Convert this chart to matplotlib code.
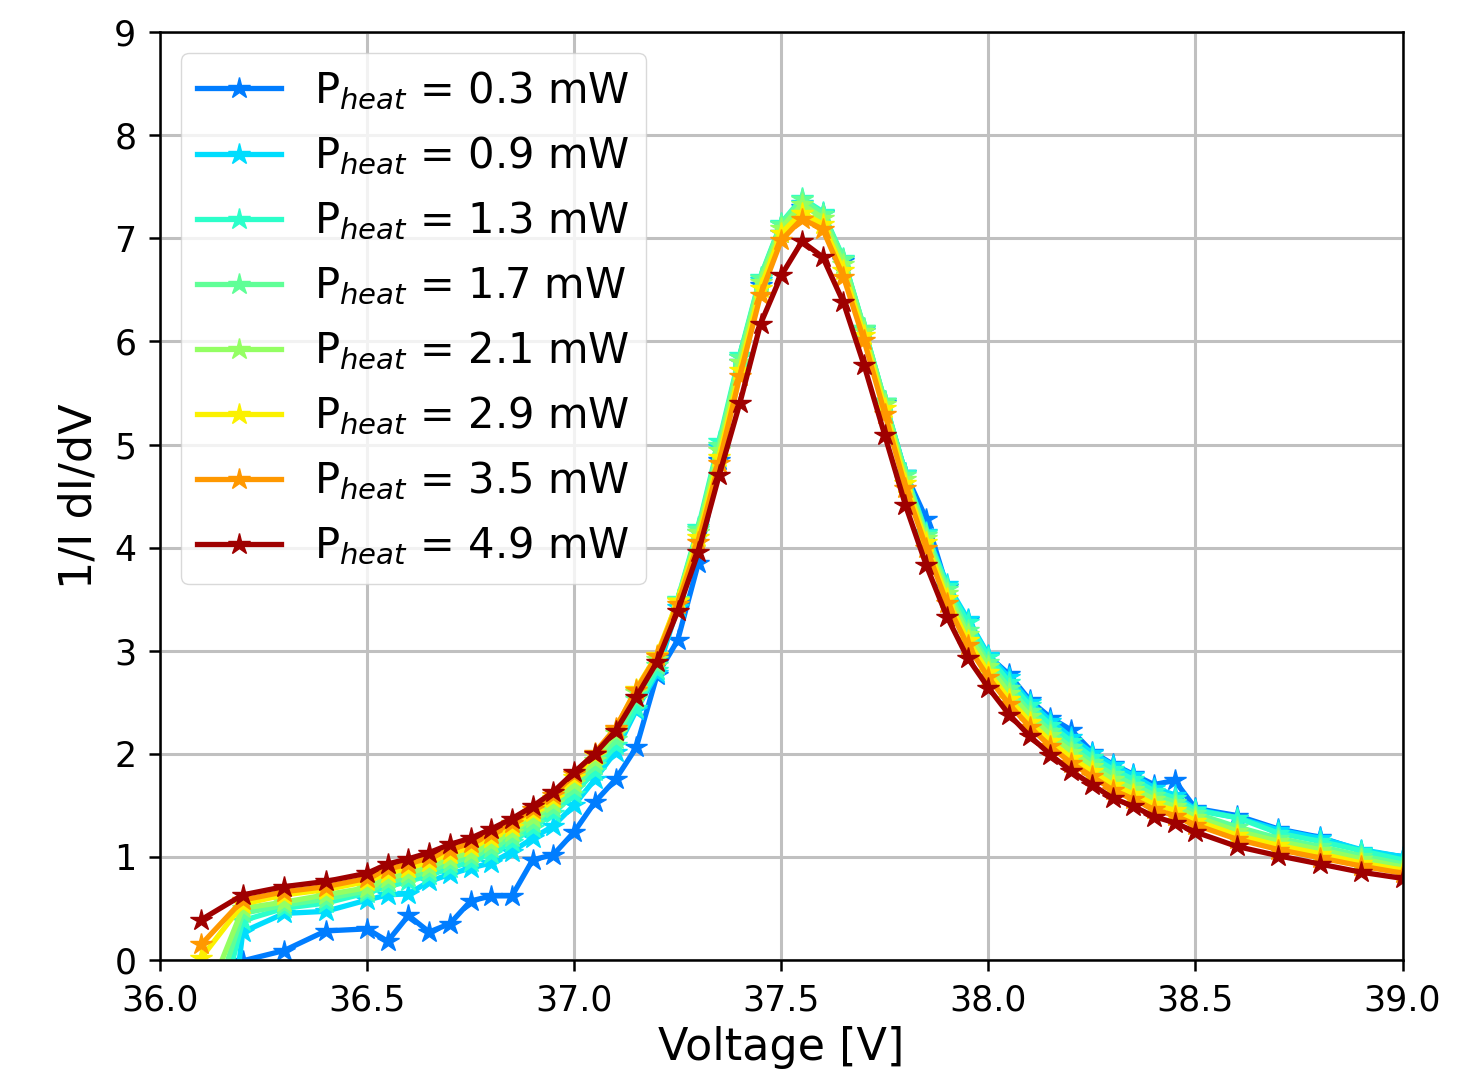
import numpy as np
from matplotlib import pyplot as plt

# heater powers in mW (legend)
p_heat = [0.3, 0.9, 1.3, 1.7, 2.1, 2.9, 3.5, 4.9]

# bias voltage [V]
voltage = [36.1, 36.2, 36.3, 36.4, 36.5, 36.55, 36.6, 36.65, 36.7, 36.75,
           36.8, 36.85, 36.9, 36.95, 37.0, 37.05, 37.1, 37.15, 37.2, 37.25,
           37.3, 37.35, 37.4, 37.45, 37.5, 37.55, 37.6, 37.65, 37.7, 37.75,
           37.8, 37.85, 37.9, 37.95, 38.0, 38.05, 38.1, 38.15, 38.2, 38.25,
           38.3, 38.35, 38.4, 38.45, 38.5, 38.6, 38.7, 38.8, 38.9, 39.0]

# 1/I dI/dV for each heater power
g_03 = [-0.8, -0.01, 0.09, 0.28, 0.30, 0.18, 0.43, 0.27, 0.35, 0.57,
        0.62, 0.62, 0.97, 1.02, 1.24, 1.53, 1.75, 2.06, 2.76, 3.10,
        3.85, 4.85, 5.80, 6.55, 7.05, 7.30, 7.25, 6.78, 6.10, 5.40,
        4.72, 4.28, 3.62, 3.30, 2.95, 2.77, 2.52, 2.35, 2.23, 2.02,
        1.90, 1.80, 1.70, 1.74, 1.47, 1.40, 1.27, 1.19, 1.06, 1.00]
g_09 = [-3.0, 0.27, 0.45, 0.47, 0.58, 0.63, 0.64, 0.76, 0.83, 0.89,
        0.94, 1.05, 1.18, 1.30, 1.50, 1.75, 2.02, 2.42, 2.78, 3.42,
        4.15, 4.98, 5.85, 6.60, 7.14, 7.34, 7.24, 6.80, 6.12, 5.42,
        4.72, 4.15, 3.65, 3.31, 2.96, 2.74, 2.50, 2.32, 2.16, 2.01,
        1.89, 1.79, 1.67, 1.60, 1.46, 1.38, 1.26, 1.18, 1.07, 1.00]
g_13 = [-1.2, 0.38, 0.50, 0.55, 0.65, 0.71, 0.76, 0.82, 0.89, 0.95,
        1.03, 1.14, 1.28, 1.42, 1.61, 1.83, 2.08, 2.44, 2.81, 3.50,
        4.20, 5.03, 5.87, 6.63, 7.15, 7.39, 7.26, 6.81, 6.13, 5.42,
        4.72, 4.14, 3.63, 3.28, 2.94, 2.70, 2.47, 2.28, 2.12, 1.97,
        1.85, 1.75, 1.64, 1.57, 1.45, 1.38, 1.23, 1.15, 1.06, 0.97]
g_17 = [-0.8, 0.45, 0.53, 0.59, 0.67, 0.75, 0.80, 0.86, 0.94, 1.00,
        1.08, 1.19, 1.33, 1.47, 1.67, 1.89, 2.14, 2.53, 2.86, 3.49,
        4.18, 5.00, 5.85, 6.62, 7.14, 7.38, 7.24, 6.80, 6.13, 5.42,
        4.70, 4.12, 3.60, 3.20, 2.89, 2.64, 2.41, 2.22, 2.06, 1.92,
        1.80, 1.70, 1.60, 1.53, 1.42, 1.29, 1.18, 1.10, 1.01, 0.93]
g_21 = [-0.5, 0.50, 0.56, 0.63, 0.70, 0.79, 0.84, 0.90, 0.98, 1.04,
        1.13, 1.24, 1.38, 1.52, 1.72, 1.94, 2.20, 2.60, 2.92, 3.49,
        4.15, 4.95, 5.80, 6.58, 7.10, 7.33, 7.20, 6.75, 6.10, 5.39,
        4.67, 4.09, 3.56, 3.16, 2.85, 2.59, 2.37, 2.18, 2.02, 1.88,
        1.75, 1.66, 1.56, 1.49, 1.39, 1.25, 1.15, 1.07, 0.98, 0.90]
g_29 = [0.02, 0.54, 0.63, 0.68, 0.76, 0.84, 0.89, 0.95, 1.03, 1.09,
        1.18, 1.29, 1.43, 1.57, 1.77, 1.99, 2.24, 2.63, 2.96, 3.48,
        4.10, 4.88, 5.72, 6.52, 7.05, 7.25, 7.14, 6.69, 6.06, 5.35,
        4.63, 4.05, 3.51, 3.10, 2.79, 2.53, 2.31, 2.12, 1.96, 1.83,
        1.70, 1.61, 1.51, 1.45, 1.35, 1.21, 1.11, 1.03, 0.94, 0.87]
g_35 = [0.15, 0.58, 0.66, 0.71, 0.79, 0.88, 0.93, 0.99, 1.07, 1.13,
        1.22, 1.33, 1.46, 1.60, 1.80, 2.01, 2.25, 2.62, 2.95, 3.45,
        4.05, 4.82, 5.66, 6.45, 6.98, 7.19, 7.09, 6.63, 6.01, 5.30,
        4.58, 4.00, 3.46, 3.05, 2.74, 2.48, 2.26, 2.07, 1.91, 1.78,
        1.65, 1.56, 1.46, 1.40, 1.31, 1.17, 1.07, 0.99, 0.91, 0.84]
g_49 = [0.39, 0.63, 0.71, 0.76, 0.84, 0.93, 0.98, 1.04, 1.12, 1.18,
        1.27, 1.37, 1.49, 1.63, 1.82, 2.00, 2.22, 2.55, 2.89, 3.38,
        3.96, 4.70, 5.40, 6.17, 6.64, 6.97, 6.82, 6.38, 5.77, 5.09,
        4.41, 3.83, 3.33, 2.93, 2.64, 2.38, 2.17, 1.99, 1.83, 1.70,
        1.57, 1.49, 1.39, 1.33, 1.24, 1.10, 1.01, 0.93, 0.85, 0.79]

curves = [g_03, g_09, g_13, g_17, g_21, g_29, g_35, g_49]

# colours from jet, spaced by heater power
colours = plt.cm.jet(0.2 + 0.157 * np.array(p_heat))

fig = plt.figure(figsize=(14.81, 10.76), dpi=100)
ax = fig.add_axes([0.108, 0.108, 0.839, 0.862])

for p, g, c in zip(p_heat, curves, colours):
    ax.plot(voltage, g, color=c, marker='*', markersize=16, linewidth=3.8,
            label=r'P$_{heat}$ = %.1f mW' % p)

ax.set_xlim(36.0, 39.0)
ax.set_ylim(0, 9)
ax.set_xticks(np.arange(36.0, 39.01, 0.5))
ax.set_xticklabels(['%.1f' % v for v in np.arange(36.0, 39.01, 0.5)])
ax.set_yticks(range(0, 10))
ax.tick_params(labelsize=25, length=8, width=1.8, pad=9)
for s in ax.spines.values():
    s.set_linewidth(1.8)
ax.grid(True, color='#c0c0c0', linewidth=2.2)
ax.set_axisbelow(True)

ax.set_xlabel('Voltage [V]', fontsize=32, labelpad=6)
ax.set_ylabel('1/I dI/dV', fontsize=32, labelpad=10)

ax.legend(loc='upper left', fontsize=30, borderpad=0.4, labelspacing=0.55,
          handlelength=2.0, borderaxespad=0.5, framealpha=0.8, edgecolor='#d0d0d0')

plt.savefig('out.png', dpi=100)
